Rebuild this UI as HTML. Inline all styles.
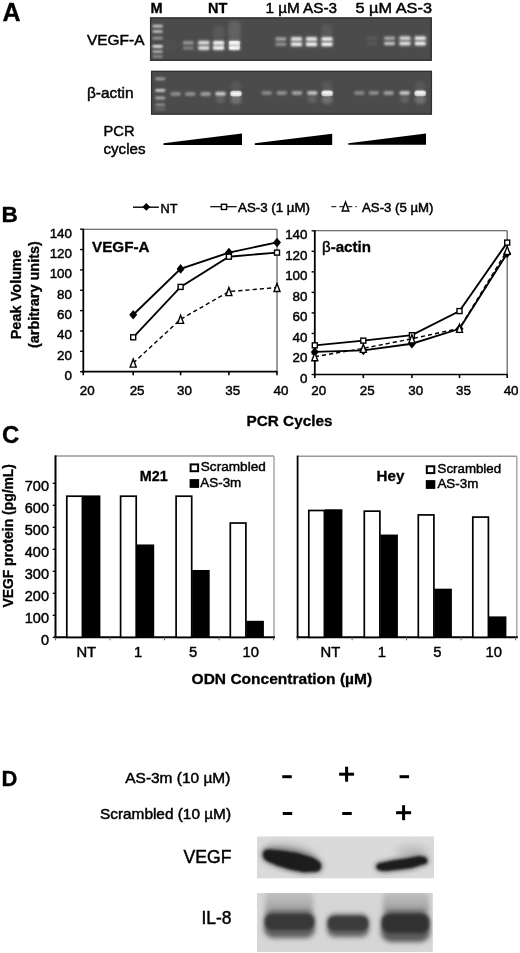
<!DOCTYPE html>
<html><head><meta charset="utf-8"><style>
html,body{margin:0;padding:0;background:#fff;}
svg{display:block;font-family:"Liberation Sans", sans-serif;will-change:transform;}
text{stroke:#000;stroke-width:0.45px;}
text[font-weight="bold"],tspan[font-weight="bold"]{stroke-width:0.3px;}
</style></head><body>
<svg width="520" height="953" viewBox="0 0 520 953">
<defs>
<clipPath id="il8clip"><rect x="257" y="893" width="175.8" height="59"/></clipPath>
<linearGradient id="smg" x1="0" y1="0" x2="0" y2="1"><stop offset="0" stop-color="#c8c8c8"/><stop offset="0.6" stop-color="#ababab"/><stop offset="1" stop-color="#8a8a8a"/></linearGradient>
<filter id="b1" x="-50%" y="-100%" width="200%" height="300%"><feGaussianBlur stdDeviation="0.7"/></filter>
<filter id="b09" x="-50%" y="-100%" width="200%" height="300%"><feGaussianBlur stdDeviation="0.9"/></filter>
<filter id="b15" x="-50%" y="-100%" width="200%" height="300%"><feGaussianBlur stdDeviation="1.2"/></filter>
<filter id="b2" x="-50%" y="-100%" width="200%" height="300%"><feGaussianBlur stdDeviation="1.6"/></filter>
<filter id="b3" x="-50%" y="-100%" width="200%" height="300%"><feGaussianBlur stdDeviation="2.5"/></filter>
<filter id="b4" x="-50%" y="-100%" width="200%" height="300%"><feGaussianBlur stdDeviation="4"/></filter>
</defs>
<text x="2.5" y="20.8" font-size="25" font-weight="bold">A</text>
<text x="150.5" y="13" font-size="14.5" font-weight="bold">M</text>
<text x="208" y="13" font-size="14.5" font-weight="bold">NT</text>
<text x="265.5" y="13" font-size="14.5" textLength="71.5" lengthAdjust="spacingAndGlyphs">1 µM AS-3</text>
<text x="355.5" y="13" font-size="14.5" textLength="76.5" lengthAdjust="spacingAndGlyphs">5 µM AS-3</text>
<text x="87" y="45" font-size="15" textLength="57.5" lengthAdjust="spacingAndGlyphs">VEGF-A</text>
<text x="87" y="98" font-size="15" textLength="46.5" lengthAdjust="spacingAndGlyphs">β-actin</text>
<rect x="150.00" y="17.40" width="281.80" height="43.40" fill="#4b4b4b"/>
<rect x="150.6" y="18.0" width="280.6" height="42.199999999999996" fill="none" stroke="#303030" stroke-width="1.3"/>
<rect x="151.00" y="70.80" width="281.00" height="43.80" fill="#4b4b4b"/>
<rect x="151.6" y="71.39999999999999" width="279.8" height="42.599999999999994" fill="none" stroke="#303030" stroke-width="1.3"/>
<rect x="152.40" y="24.80" width="10.40" height="2.80" rx="1.40" fill="#c8c8c8" opacity="1" filter="url(#b09)"/>
<rect x="152.40" y="30.10" width="10.40" height="2.80" rx="1.40" fill="#b8b8b8" opacity="1" filter="url(#b09)"/>
<rect x="152.40" y="36.80" width="10.40" height="2.80" rx="1.40" fill="#9a9a9a" opacity="1" filter="url(#b09)"/>
<rect x="152.40" y="45.00" width="10.40" height="2.80" rx="1.40" fill="#ececec" opacity="1" filter="url(#b09)"/>
<rect x="152.40" y="50.30" width="10.40" height="2.80" rx="1.40" fill="#b4b4b4" opacity="1" filter="url(#b09)"/>
<rect x="152.40" y="55.10" width="10.40" height="2.80" rx="1.40" fill="#888888" opacity="1" filter="url(#b09)"/>
<rect x="155.30" y="77.40" width="10.00" height="2.80" rx="1.40" fill="#a0a0a0" opacity="1" filter="url(#b09)"/>
<rect x="155.30" y="89.00" width="10.00" height="2.80" rx="1.40" fill="#d4d4d4" opacity="1" filter="url(#b09)"/>
<rect x="155.30" y="96.60" width="10.00" height="2.80" rx="1.40" fill="#aaaaaa" opacity="1" filter="url(#b09)"/>
<rect x="155.30" y="103.40" width="10.00" height="2.80" rx="1.40" fill="#909090" opacity="1" filter="url(#b09)"/>
<rect x="155.30" y="107.60" width="10.00" height="2.80" rx="1.40" fill="#686868" opacity="1" filter="url(#b09)"/>
<rect x="228.40" y="21.00" width="12.00" height="20.00" rx="4.00" fill="#626262" opacity="1" filter="url(#b2)"/>
<rect x="213.10" y="26.00" width="11.00" height="14.00" rx="4.00" fill="#585858" opacity="1" filter="url(#b2)"/>
<rect x="321.50" y="24.00" width="11.00" height="14.00" rx="4.00" fill="#585858" opacity="1" filter="url(#b2)"/>
<rect x="164.60" y="41.00" width="10.80" height="3.40" rx="1.20" fill="#505050" opacity="1" filter="url(#b09)"/>
<rect x="164.60" y="46.20" width="10.80" height="3.60" rx="1.20" fill="#505050" opacity="1" filter="url(#b09)"/>
<rect x="182.90" y="41.00" width="10.80" height="3.40" rx="1.20" fill="#969696" opacity="1" filter="url(#b09)"/>
<rect x="182.90" y="46.20" width="10.80" height="3.60" rx="1.20" fill="#808080" opacity="1" filter="url(#b09)"/>
<rect x="197.30" y="39.85" width="13.00" height="11.00" rx="3.00" fill="#6a6a6a" opacity="1" filter="url(#b2)"/>
<rect x="198.40" y="41.00" width="10.80" height="3.40" rx="1.20" fill="#e0e0e0" opacity="1" filter="url(#b09)"/>
<rect x="198.40" y="46.20" width="10.80" height="3.60" rx="1.20" fill="#e8e8e8" opacity="1" filter="url(#b09)"/>
<rect x="212.10" y="39.85" width="13.00" height="11.00" rx="3.00" fill="#6a6a6a" opacity="1" filter="url(#b2)"/>
<rect x="213.20" y="41.00" width="10.80" height="3.40" rx="1.20" fill="#eeeeee" opacity="1" filter="url(#b09)"/>
<rect x="213.20" y="46.20" width="10.80" height="3.60" rx="1.20" fill="#f4f4f4" opacity="1" filter="url(#b09)"/>
<rect x="227.90" y="39.85" width="13.00" height="11.00" rx="3.00" fill="#6a6a6a" opacity="1" filter="url(#b2)"/>
<rect x="229.00" y="41.00" width="10.80" height="3.40" rx="1.20" fill="#ffffff" opacity="1" filter="url(#b09)"/>
<rect x="229.00" y="46.20" width="10.80" height="3.60" rx="1.20" fill="#ffffff" opacity="1" filter="url(#b09)"/>
<rect x="275.40" y="37.30" width="10.80" height="3.40" rx="1.20" fill="#a4a4a4" opacity="1" filter="url(#b09)"/>
<rect x="275.40" y="42.50" width="10.80" height="3.60" rx="1.20" fill="#909090" opacity="1" filter="url(#b09)"/>
<rect x="290.00" y="36.15" width="13.00" height="11.00" rx="3.00" fill="#6a6a6a" opacity="1" filter="url(#b2)"/>
<rect x="291.10" y="37.30" width="10.80" height="3.40" rx="1.20" fill="#e8e8e8" opacity="1" filter="url(#b09)"/>
<rect x="291.10" y="42.50" width="10.80" height="3.60" rx="1.20" fill="#f0f0f0" opacity="1" filter="url(#b09)"/>
<rect x="305.00" y="36.15" width="13.00" height="11.00" rx="3.00" fill="#6a6a6a" opacity="1" filter="url(#b2)"/>
<rect x="306.10" y="37.30" width="10.80" height="3.40" rx="1.20" fill="#f0f0f0" opacity="1" filter="url(#b09)"/>
<rect x="306.10" y="42.50" width="10.80" height="3.60" rx="1.20" fill="#f8f8f8" opacity="1" filter="url(#b09)"/>
<rect x="320.50" y="36.15" width="13.00" height="11.00" rx="3.00" fill="#6a6a6a" opacity="1" filter="url(#b2)"/>
<rect x="321.60" y="37.30" width="10.80" height="3.40" rx="1.20" fill="#f4f4f4" opacity="1" filter="url(#b09)"/>
<rect x="321.60" y="42.50" width="10.80" height="3.60" rx="1.20" fill="#fafafa" opacity="1" filter="url(#b09)"/>
<rect x="366.60" y="36.60" width="10.80" height="3.40" rx="1.20" fill="#5c5c5c" opacity="1" filter="url(#b09)"/>
<rect x="366.60" y="41.70" width="10.80" height="3.60" rx="1.20" fill="#585858" opacity="1" filter="url(#b09)"/>
<rect x="384.10" y="36.60" width="10.80" height="3.40" rx="1.20" fill="#a8a8a8" opacity="1" filter="url(#b09)"/>
<rect x="384.10" y="41.70" width="10.80" height="3.60" rx="1.20" fill="#c8c8c8" opacity="1" filter="url(#b09)"/>
<rect x="398.50" y="35.40" width="13.00" height="11.00" rx="3.00" fill="#6a6a6a" opacity="1" filter="url(#b2)"/>
<rect x="399.60" y="36.60" width="10.80" height="3.40" rx="1.20" fill="#d4d4d4" opacity="1" filter="url(#b09)"/>
<rect x="399.60" y="41.70" width="10.80" height="3.60" rx="1.20" fill="#e4e4e4" opacity="1" filter="url(#b09)"/>
<rect x="413.80" y="35.40" width="13.00" height="11.00" rx="3.00" fill="#6a6a6a" opacity="1" filter="url(#b2)"/>
<rect x="414.90" y="36.60" width="10.80" height="3.40" rx="1.20" fill="#ececec" opacity="1" filter="url(#b09)"/>
<rect x="414.90" y="41.70" width="10.80" height="3.60" rx="1.20" fill="#f4f4f4" opacity="1" filter="url(#b09)"/>
<rect x="228.90" y="41.05" width="11.00" height="8.50" rx="2.00" fill="#ffffff" opacity="0.5" filter="url(#b1)"/>
<rect x="213.35" y="41.55" width="10.50" height="7.50" rx="2.00" fill="#ffffff" opacity="0.3" filter="url(#b1)"/>
<rect x="216.00" y="96.00" width="9.00" height="7.00" rx="3.50" fill="#626262" opacity="1" filter="url(#b2)"/>
<rect x="307.80" y="96.00" width="9.00" height="7.00" rx="3.50" fill="#626262" opacity="1" filter="url(#b2)"/>
<rect x="400.10" y="96.00" width="9.00" height="7.00" rx="3.50" fill="#626262" opacity="1" filter="url(#b2)"/>
<rect x="230.50" y="95.00" width="11.00" height="9.00" rx="4.50" fill="#707070" opacity="1" filter="url(#b2)"/>
<rect x="231.00" y="81.00" width="10.00" height="10.00" rx="5.00" fill="#585858" opacity="1" filter="url(#b2)"/>
<rect x="321.70" y="95.00" width="11.00" height="9.00" rx="4.50" fill="#707070" opacity="1" filter="url(#b2)"/>
<rect x="322.20" y="81.00" width="10.00" height="10.00" rx="5.00" fill="#585858" opacity="1" filter="url(#b2)"/>
<rect x="414.70" y="95.00" width="11.00" height="9.00" rx="4.50" fill="#707070" opacity="1" filter="url(#b2)"/>
<rect x="415.20" y="81.00" width="10.00" height="10.00" rx="5.00" fill="#585858" opacity="1" filter="url(#b2)"/>
<rect x="170.45" y="91.90" width="10.50" height="4.00" rx="1.80" fill="#8c8c8c" opacity="1" filter="url(#b09)"/>
<rect x="185.05" y="91.90" width="10.50" height="4.00" rx="1.80" fill="#909090" opacity="1" filter="url(#b09)"/>
<rect x="200.35" y="91.90" width="10.50" height="4.00" rx="1.80" fill="#9c9c9c" opacity="1" filter="url(#b09)"/>
<rect x="215.25" y="91.80" width="10.50" height="4.00" rx="1.80" fill="#c8c8c8" opacity="1" filter="url(#b09)"/>
<rect x="230.75" y="91.80" width="10.50" height="4.00" rx="1.80" fill="#f4f4f4" opacity="1" filter="url(#b09)"/>
<rect x="261.55" y="90.90" width="10.50" height="4.00" rx="1.80" fill="#888888" opacity="1" filter="url(#b09)"/>
<rect x="276.55" y="90.90" width="10.50" height="4.00" rx="1.80" fill="#909090" opacity="1" filter="url(#b09)"/>
<rect x="291.75" y="90.90" width="10.50" height="4.00" rx="1.80" fill="#a0a0a0" opacity="1" filter="url(#b09)"/>
<rect x="307.05" y="90.90" width="10.50" height="4.00" rx="1.80" fill="#c0c0c0" opacity="1" filter="url(#b09)"/>
<rect x="321.95" y="90.80" width="10.50" height="4.00" rx="1.80" fill="#f0f0f0" opacity="1" filter="url(#b09)"/>
<rect x="354.15" y="90.90" width="10.50" height="4.00" rx="1.80" fill="#868686" opacity="1" filter="url(#b09)"/>
<rect x="368.55" y="90.90" width="10.50" height="4.00" rx="1.80" fill="#8c8c8c" opacity="1" filter="url(#b09)"/>
<rect x="383.35" y="90.90" width="10.50" height="4.00" rx="1.80" fill="#9c9c9c" opacity="1" filter="url(#b09)"/>
<rect x="399.35" y="90.90" width="10.50" height="4.00" rx="1.80" fill="#c4c4c4" opacity="1" filter="url(#b09)"/>
<rect x="414.95" y="90.80" width="10.50" height="4.00" rx="1.80" fill="#f0f0f0" opacity="1" filter="url(#b09)"/>
<rect x="230.25" y="90.85" width="11.50" height="5.50" rx="2.50" fill="#ffffff" opacity="0.6" filter="url(#b1)"/>
<rect x="321.45" y="90.85" width="11.50" height="5.50" rx="2.50" fill="#ffffff" opacity="0.6" filter="url(#b1)"/>
<rect x="414.45" y="90.85" width="11.50" height="5.50" rx="2.50" fill="#ffffff" opacity="0.6" filter="url(#b1)"/>
<path d="M163.5 143.3 L242 133.5 L242 145 L163.5 145 Z" fill="#000"/>
<path d="M254.8 143.3 L332.2 133.7 L332.2 145 L254.8 145 Z" fill="#000"/>
<path d="M348.3 143.2 L426 133.5 L426 144.8 L348.3 144.8 Z" fill="#000"/>
<text x="103.5" y="135.6" font-size="14.5" textLength="31" lengthAdjust="spacingAndGlyphs">PCR</text>
<text x="103.5" y="154" font-size="14.5" textLength="42" lengthAdjust="spacingAndGlyphs">cycles</text>
<text x="1.5" y="222.3" font-size="22.7" font-weight="bold">B</text>
<line x1="133.00" y1="207.20" x2="158.90" y2="207.20" stroke="#000" stroke-width="1.4"/>
<path d="M146.30 203.00 L150.20 206.90 L146.30 210.80 L142.40 206.90 Z" fill="#000"/>
<text x="160.5" y="213.1" font-size="12.5" textLength="17" lengthAdjust="spacingAndGlyphs">NT</text>
<line x1="210.20" y1="206.70" x2="236.70" y2="206.70" stroke="#000" stroke-width="1.2"/>
<rect x="221.40" y="204.30" width="5.20" height="5.20" fill="#fff" stroke="#000" stroke-width="1.4"/>
<text x="238" y="212.4" font-size="12" textLength="72" lengthAdjust="spacingAndGlyphs">AS-3 (1 µM)</text>
<line x1="331.30" y1="206.70" x2="356.70" y2="206.70" stroke="#000" stroke-width="1.0" stroke-dasharray="5 3"/>
<path d="M345.50 202.04 L348.80 210.96 L342.20 210.96 Z" fill="#fff" stroke="#000" stroke-width="1.4"/>
<text x="362" y="212.4" font-size="12" textLength="71.5" lengthAdjust="spacingAndGlyphs">AS-3 (5 µM)</text>
<text transform="translate(21,294.6) rotate(-90)" text-anchor="middle" font-size="14.5" font-weight="bold" textLength="89.5" lengthAdjust="spacingAndGlyphs">Peak Volume</text>
<text transform="translate(38.8,294.6) rotate(-90)" text-anchor="middle" font-size="14.5" font-weight="bold" textLength="107" lengthAdjust="spacingAndGlyphs">(arbitrary units)</text>
<line x1="83.30" y1="229.20" x2="277.00" y2="229.20" stroke="#444" stroke-width="1.1"/>
<line x1="277.00" y1="229.20" x2="277.00" y2="371.70" stroke="#666" stroke-width="1.3"/>
<line x1="83.30" y1="228.70" x2="83.30" y2="372.70" stroke="#000" stroke-width="1.8"/>
<line x1="82.30" y1="371.70" x2="277.50" y2="371.70" stroke="#000" stroke-width="1.7"/>
<line x1="80.10" y1="371.70" x2="83.30" y2="371.70" stroke="#000" stroke-width="1.4"/>
<text x="72" y="380.0" font-size="13.4" text-anchor="end">0</text>
<line x1="80.10" y1="351.34" x2="83.30" y2="351.34" stroke="#000" stroke-width="1.4"/>
<text x="72" y="359.64285714285717" font-size="13.4" text-anchor="end">20</text>
<line x1="80.10" y1="330.99" x2="83.30" y2="330.99" stroke="#000" stroke-width="1.4"/>
<text x="72" y="339.2857142857143" font-size="13.4" text-anchor="end">40</text>
<line x1="80.10" y1="310.63" x2="83.30" y2="310.63" stroke="#000" stroke-width="1.4"/>
<text x="72" y="318.92857142857144" font-size="13.4" text-anchor="end">60</text>
<line x1="80.10" y1="290.27" x2="83.30" y2="290.27" stroke="#000" stroke-width="1.4"/>
<text x="72" y="298.57142857142856" font-size="13.4" text-anchor="end">80</text>
<line x1="80.10" y1="269.91" x2="83.30" y2="269.91" stroke="#000" stroke-width="1.4"/>
<text x="72" y="278.2142857142857" font-size="13.4" text-anchor="end">100</text>
<line x1="80.10" y1="249.56" x2="83.30" y2="249.56" stroke="#000" stroke-width="1.4"/>
<text x="72" y="257.85714285714283" font-size="13.4" text-anchor="end">120</text>
<line x1="80.10" y1="229.20" x2="83.30" y2="229.20" stroke="#000" stroke-width="1.4"/>
<text x="72" y="237.5" font-size="13.4" text-anchor="end">140</text>
<line x1="83.30" y1="371.70" x2="83.30" y2="375.30" stroke="#000" stroke-width="1.6"/>
<text x="87.2" y="394.7" font-size="13.4" text-anchor="middle">20</text>
<line x1="133.20" y1="371.70" x2="133.20" y2="375.30" stroke="#000" stroke-width="1.6"/>
<text x="137.1" y="394.7" font-size="13.4" text-anchor="middle">25</text>
<line x1="180.60" y1="371.70" x2="180.60" y2="375.30" stroke="#000" stroke-width="1.6"/>
<text x="184.5" y="394.7" font-size="13.4" text-anchor="middle">30</text>
<line x1="228.90" y1="371.70" x2="228.90" y2="375.30" stroke="#000" stroke-width="1.6"/>
<text x="232.8" y="394.7" font-size="13.4" text-anchor="middle">35</text>
<line x1="277.00" y1="371.70" x2="277.00" y2="375.30" stroke="#000" stroke-width="1.6"/>
<text x="280.9" y="394.7" font-size="13.4" text-anchor="middle">40</text>
<polyline points="133.20,314.70 180.60,268.90 228.90,252.61 277.00,242.43" fill="none" stroke="#000" stroke-width="1.9"/>
<path d="M133.20 309.90 L137.20 314.70 L133.20 319.50 L129.20 314.70 Z" fill="#000"/>
<path d="M180.60 264.10 L184.60 268.90 L180.60 273.70 L176.60 268.90 Z" fill="#000"/>
<path d="M228.90 247.81 L232.90 252.61 L228.90 257.41 L224.90 252.61 Z" fill="#000"/>
<path d="M277.00 237.63 L281.00 242.43 L277.00 247.23 L273.00 242.43 Z" fill="#000"/>
<polyline points="133.20,337.30 180.60,286.91 228.90,256.68 277.00,252.61" fill="none" stroke="#000" stroke-width="1.9"/>
<rect x="130.70" y="334.80" width="5.00" height="5.00" fill="#fff" stroke="#000" stroke-width="1.4"/>
<rect x="178.10" y="284.41" width="5.00" height="5.00" fill="#fff" stroke="#000" stroke-width="1.4"/>
<rect x="226.40" y="254.18" width="5.00" height="5.00" fill="#fff" stroke="#000" stroke-width="1.4"/>
<rect x="274.50" y="250.11" width="5.00" height="5.00" fill="#fff" stroke="#000" stroke-width="1.4"/>
<polyline points="133.20,363.05 180.60,319.28 228.90,291.59 277.00,287.52" fill="none" stroke="#000" stroke-width="1.4" stroke-dasharray="4.2 3"/>
<path d="M133.20 359.00 L136.20 367.10 L130.20 367.10 Z" fill="#fff" stroke="#000" stroke-width="1.4"/>
<path d="M180.60 315.23 L183.60 323.33 L177.60 323.33 Z" fill="#fff" stroke="#000" stroke-width="1.4"/>
<path d="M228.90 287.54 L231.90 295.64 L225.90 295.64 Z" fill="#fff" stroke="#000" stroke-width="1.4"/>
<path d="M277.00 283.47 L280.00 291.57 L274.00 291.57 Z" fill="#fff" stroke="#000" stroke-width="1.4"/>
<text x="92" y="252.2" font-size="14.5" font-weight="bold" textLength="57.5" lengthAdjust="spacingAndGlyphs">VEGF-A</text>
<line x1="314.80" y1="230.80" x2="507.20" y2="230.80" stroke="#444" stroke-width="1.1"/>
<line x1="507.20" y1="230.80" x2="507.20" y2="374.50" stroke="#666" stroke-width="1.3"/>
<line x1="314.80" y1="230.30" x2="314.80" y2="375.50" stroke="#000" stroke-width="1.8"/>
<line x1="313.80" y1="374.50" x2="507.70" y2="374.50" stroke="#000" stroke-width="1.7"/>
<line x1="311.60" y1="374.50" x2="314.80" y2="374.50" stroke="#000" stroke-width="1.4"/>
<text x="307.5" y="382.8" font-size="13.4" text-anchor="end">0</text>
<line x1="311.60" y1="353.97" x2="314.80" y2="353.97" stroke="#000" stroke-width="1.4"/>
<text x="307.5" y="362.2714285714286" font-size="13.4" text-anchor="end">20</text>
<line x1="311.60" y1="333.44" x2="314.80" y2="333.44" stroke="#000" stroke-width="1.4"/>
<text x="307.5" y="341.74285714285713" font-size="13.4" text-anchor="end">40</text>
<line x1="311.60" y1="312.91" x2="314.80" y2="312.91" stroke="#000" stroke-width="1.4"/>
<text x="307.5" y="321.2142857142857" font-size="13.4" text-anchor="end">60</text>
<line x1="311.60" y1="292.39" x2="314.80" y2="292.39" stroke="#000" stroke-width="1.4"/>
<text x="307.5" y="300.6857142857143" font-size="13.4" text-anchor="end">80</text>
<line x1="311.60" y1="271.86" x2="314.80" y2="271.86" stroke="#000" stroke-width="1.4"/>
<text x="307.5" y="280.1571428571429" font-size="13.4" text-anchor="end">100</text>
<line x1="311.60" y1="251.33" x2="314.80" y2="251.33" stroke="#000" stroke-width="1.4"/>
<text x="307.5" y="259.62857142857143" font-size="13.4" text-anchor="end">120</text>
<line x1="311.60" y1="230.80" x2="314.80" y2="230.80" stroke="#000" stroke-width="1.4"/>
<text x="307.5" y="239.10000000000002" font-size="13.4" text-anchor="end">140</text>
<line x1="314.80" y1="374.50" x2="314.80" y2="378.10" stroke="#000" stroke-width="1.6"/>
<text x="318.7" y="394.7" font-size="13.4" text-anchor="middle">20</text>
<line x1="363.30" y1="374.50" x2="363.30" y2="378.10" stroke="#000" stroke-width="1.6"/>
<text x="367.2" y="394.7" font-size="13.4" text-anchor="middle">25</text>
<line x1="411.90" y1="374.50" x2="411.90" y2="378.10" stroke="#000" stroke-width="1.6"/>
<text x="415.79999999999995" y="394.7" font-size="13.4" text-anchor="middle">30</text>
<line x1="459.50" y1="374.50" x2="459.50" y2="378.10" stroke="#000" stroke-width="1.6"/>
<text x="463.4" y="394.7" font-size="13.4" text-anchor="middle">35</text>
<line x1="507.20" y1="374.50" x2="507.20" y2="378.10" stroke="#000" stroke-width="1.6"/>
<text x="511.09999999999997" y="394.7" font-size="13.4" text-anchor="middle">40</text>
<polyline points="314.80,351.92 363.30,350.38 411.90,343.71 459.50,328.82 507.20,253.38" fill="none" stroke="#000" stroke-width="1.9"/>
<path d="M314.80 347.12 L318.80 351.92 L314.80 356.72 L310.80 351.92 Z" fill="#000"/>
<path d="M363.30 345.58 L367.30 350.38 L363.30 355.18 L359.30 350.38 Z" fill="#000"/>
<path d="M411.90 338.91 L415.90 343.71 L411.90 348.51 L407.90 343.71 Z" fill="#000"/>
<path d="M459.50 324.02 L463.50 328.82 L459.50 333.62 L455.50 328.82 Z" fill="#000"/>
<path d="M507.20 248.58 L511.20 253.38 L507.20 258.18 L503.20 253.38 Z" fill="#000"/>
<polyline points="314.80,345.35 363.30,340.63 411.90,335.19 459.50,311.07 507.20,242.60" fill="none" stroke="#000" stroke-width="1.9"/>
<rect x="312.30" y="342.85" width="5.00" height="5.00" fill="#fff" stroke="#000" stroke-width="1.4"/>
<rect x="360.80" y="338.13" width="5.00" height="5.00" fill="#fff" stroke="#000" stroke-width="1.4"/>
<rect x="409.40" y="332.69" width="5.00" height="5.00" fill="#fff" stroke="#000" stroke-width="1.4"/>
<rect x="457.00" y="308.57" width="5.00" height="5.00" fill="#fff" stroke="#000" stroke-width="1.4"/>
<rect x="504.70" y="240.10" width="5.00" height="5.00" fill="#fff" stroke="#000" stroke-width="1.4"/>
<polyline points="314.80,356.74 363.30,348.33 411.90,338.78 459.50,328.31 507.20,250.30" fill="none" stroke="#000" stroke-width="1.4" stroke-dasharray="4.2 3"/>
<path d="M314.80 352.69 L317.80 360.79 L311.80 360.79 Z" fill="#fff" stroke="#000" stroke-width="1.4"/>
<path d="M363.30 344.28 L366.30 352.38 L360.30 352.38 Z" fill="#fff" stroke="#000" stroke-width="1.4"/>
<path d="M411.90 334.73 L414.90 342.83 L408.90 342.83 Z" fill="#fff" stroke="#000" stroke-width="1.4"/>
<path d="M459.50 324.26 L462.50 332.36 L456.50 332.36 Z" fill="#fff" stroke="#000" stroke-width="1.4"/>
<path d="M507.20 246.25 L510.20 254.35 L504.20 254.35 Z" fill="#fff" stroke="#000" stroke-width="1.4"/>
<text x="322" y="252.2" font-size="14.5" textLength="49" lengthAdjust="spacingAndGlyphs"><tspan>β</tspan><tspan font-weight="bold">-actin</tspan></text>
<text x="246.5" y="426" font-size="14.8" font-weight="bold" textLength="86" lengthAdjust="spacingAndGlyphs">PCR Cycles</text>
<text x="2" y="442.5" font-size="24" font-weight="bold">C</text>
<text transform="translate(13,535.8) rotate(-90)" text-anchor="middle" font-size="14" font-weight="bold" textLength="143.5" lengthAdjust="spacingAndGlyphs">VEGF protein (pg/mL)</text>
<line x1="55.50" y1="456.00" x2="274.00" y2="456.00" stroke="#999" stroke-width="1.4"/>
<line x1="274.00" y1="456.00" x2="274.00" y2="637.30" stroke="#999" stroke-width="1.3"/>
<line x1="55.50" y1="455.30" x2="55.50" y2="638.30" stroke="#000" stroke-width="2"/>
<line x1="54.50" y1="637.30" x2="275.00" y2="637.30" stroke="#000" stroke-width="2"/>
<line x1="52.70" y1="637.30" x2="55.50" y2="637.30" stroke="#000" stroke-width="1.3"/>
<text x="49" y="644.5" font-size="14.5" text-anchor="end">0</text>
<line x1="52.70" y1="615.30" x2="55.50" y2="615.30" stroke="#000" stroke-width="1.3"/>
<text x="49" y="622.5" font-size="14.5" text-anchor="end">100</text>
<line x1="52.70" y1="593.30" x2="55.50" y2="593.30" stroke="#000" stroke-width="1.3"/>
<text x="49" y="600.5" font-size="14.5" text-anchor="end">200</text>
<line x1="52.70" y1="571.30" x2="55.50" y2="571.30" stroke="#000" stroke-width="1.3"/>
<text x="49" y="578.5" font-size="14.5" text-anchor="end">300</text>
<line x1="52.70" y1="549.30" x2="55.50" y2="549.30" stroke="#000" stroke-width="1.3"/>
<text x="49" y="556.5" font-size="14.5" text-anchor="end">400</text>
<line x1="52.70" y1="527.30" x2="55.50" y2="527.30" stroke="#000" stroke-width="1.3"/>
<text x="49" y="534.5" font-size="14.5" text-anchor="end">500</text>
<line x1="52.70" y1="505.30" x2="55.50" y2="505.30" stroke="#000" stroke-width="1.3"/>
<text x="49" y="512.5" font-size="14.5" text-anchor="end">600</text>
<line x1="52.70" y1="483.30" x2="55.50" y2="483.30" stroke="#000" stroke-width="1.3"/>
<text x="49" y="490.49999999999994" font-size="14.5" text-anchor="end">700</text>
<line x1="55.50" y1="637.30" x2="55.50" y2="640.30" stroke="#666" stroke-width="1"/>
<line x1="110.00" y1="637.30" x2="110.00" y2="640.30" stroke="#666" stroke-width="1"/>
<line x1="164.50" y1="637.30" x2="164.50" y2="640.30" stroke="#666" stroke-width="1"/>
<line x1="219.00" y1="637.30" x2="219.00" y2="640.30" stroke="#666" stroke-width="1"/>
<line x1="273.50" y1="637.30" x2="273.50" y2="640.30" stroke="#666" stroke-width="1"/>
<rect x="66.80" y="496.20" width="15.60" height="141.10" fill="#fff" stroke="#000" stroke-width="1.7"/>
<rect x="82.80" y="495.40" width="17.60" height="141.90" fill="#000"/>
<rect x="120.60" y="496.20" width="15.60" height="141.10" fill="#fff" stroke="#000" stroke-width="1.7"/>
<rect x="136.60" y="544.46" width="17.60" height="92.84" fill="#000"/>
<rect x="176.10" y="496.20" width="15.60" height="141.10" fill="#fff" stroke="#000" stroke-width="1.7"/>
<rect x="192.10" y="569.98" width="17.60" height="67.32" fill="#000"/>
<rect x="230.30" y="523.04" width="15.60" height="114.26" fill="#fff" stroke="#000" stroke-width="1.7"/>
<rect x="246.30" y="620.80" width="17.60" height="16.50" fill="#000"/>
<text x="86.3" y="657.2" font-size="14.8" text-anchor="middle">NT</text>
<text x="138.1" y="657.2" font-size="14.8" text-anchor="middle">1</text>
<text x="193" y="657.2" font-size="14.8" text-anchor="middle">5</text>
<text x="250.8" y="657.2" font-size="14.8" text-anchor="middle">10</text>
<line x1="297.60" y1="456.30" x2="516.80" y2="456.30" stroke="#999" stroke-width="1.4"/>
<line x1="516.80" y1="456.30" x2="516.80" y2="637.30" stroke="#999" stroke-width="1.3"/>
<line x1="297.60" y1="455.60" x2="297.60" y2="638.30" stroke="#000" stroke-width="1.8"/>
<line x1="296.60" y1="637.30" x2="517.80" y2="637.30" stroke="#000" stroke-width="2"/>
<line x1="297.60" y1="637.30" x2="297.60" y2="640.30" stroke="#666" stroke-width="1"/>
<line x1="352.10" y1="637.30" x2="352.10" y2="640.30" stroke="#666" stroke-width="1"/>
<line x1="406.60" y1="637.30" x2="406.60" y2="640.30" stroke="#666" stroke-width="1"/>
<line x1="461.10" y1="637.30" x2="461.10" y2="640.30" stroke="#666" stroke-width="1"/>
<line x1="515.60" y1="637.30" x2="515.60" y2="640.30" stroke="#666" stroke-width="1"/>
<rect x="308.80" y="510.50" width="15.60" height="126.80" fill="#fff" stroke="#000" stroke-width="1.7"/>
<rect x="324.80" y="509.26" width="17.60" height="128.04" fill="#000"/>
<rect x="364.30" y="511.16" width="15.60" height="126.14" fill="#fff" stroke="#000" stroke-width="1.7"/>
<rect x="380.30" y="534.56" width="17.60" height="102.74" fill="#000"/>
<rect x="418.30" y="514.90" width="15.60" height="122.40" fill="#fff" stroke="#000" stroke-width="1.7"/>
<rect x="434.30" y="588.68" width="17.60" height="48.62" fill="#000"/>
<rect x="472.80" y="517.10" width="15.60" height="120.20" fill="#fff" stroke="#000" stroke-width="1.7"/>
<rect x="488.80" y="616.40" width="17.60" height="20.90" fill="#000"/>
<text x="330.4" y="657.2" font-size="14.8" text-anchor="middle">NT</text>
<text x="381.9" y="657.2" font-size="14.8" text-anchor="middle">1</text>
<text x="437.3" y="657.2" font-size="14.8" text-anchor="middle">5</text>
<text x="493.7" y="657.2" font-size="14.8" text-anchor="middle">10</text>
<text x="139.8" y="480.6" font-size="14.6" font-weight="bold" textLength="28" lengthAdjust="spacingAndGlyphs">M21</text>
<text x="376.6" y="480.6" font-size="14.6" font-weight="bold" textLength="27.8" lengthAdjust="spacingAndGlyphs">Hey</text>
<rect x="190.60" y="464.40" width="7.50" height="6.80" fill="#fff" stroke="#000" stroke-width="2"/>
<rect x="189.60" y="479.10" width="9.50" height="8.80" fill="#000"/>
<text x="200.8" y="471.4" font-size="13.5" textLength="65" lengthAdjust="spacingAndGlyphs">Scrambled</text>
<text x="200.3" y="487.3" font-size="13.5" textLength="41" lengthAdjust="spacingAndGlyphs">AS-3m</text>
<rect x="426.80" y="466.30" width="7.50" height="6.80" fill="#fff" stroke="#000" stroke-width="2"/>
<rect x="425.80" y="480.10" width="9.50" height="8.80" fill="#000"/>
<text x="437.6" y="472.9" font-size="13.5" textLength="63.5" lengthAdjust="spacingAndGlyphs">Scrambled</text>
<text x="437.4" y="488.2" font-size="13.5" textLength="41" lengthAdjust="spacingAndGlyphs">AS-3m</text>
<text x="191.6" y="683.8" font-size="14.6" font-weight="bold" textLength="180.5" lengthAdjust="spacingAndGlyphs">ODN Concentration (µM)</text>
<text x="1.5" y="786" font-size="22" font-weight="bold">D</text>
<text x="125.3" y="783" font-size="14" textLength="105" lengthAdjust="spacingAndGlyphs">AS-3m (10 µM)</text>
<text x="100" y="819.3" font-size="14.4" textLength="131" lengthAdjust="spacingAndGlyphs">Scrambled (10 µM)</text>
<rect x="282.25" y="775.20" width="9.50" height="3.00" fill="#000"/>
<rect x="339.10" y="772.70" width="15.00" height="3.00" fill="#000"/>
<rect x="345.10" y="766.70" width="3.00" height="15.00" fill="#000"/>
<rect x="399.55" y="775.20" width="9.50" height="3.00" fill="#000"/>
<rect x="282.75" y="812.00" width="9.50" height="3.00" fill="#000"/>
<rect x="342.25" y="812.00" width="9.50" height="3.00" fill="#000"/>
<rect x="396.10" y="811.20" width="15.00" height="3.00" fill="#000"/>
<rect x="402.10" y="805.20" width="3.00" height="15.00" fill="#000"/>
<rect x="257.00" y="836.50" width="177.00" height="41.80" fill="#dadada"/>
<rect x="257.00" y="893.00" width="175.80" height="59.00" fill="#d6d6d6"/>
<ellipse cx="290" cy="855" rx="26" ry="9" fill="#9a9a9a" transform="rotate(10 290 855)" filter="url(#b4)"/>
<path d="M263.2,855 C263,850.5 266,849.5 271,849.8 L284,851 L297,853 L310.3,857 C316,859 321,862 321,866 C321,870 318,871.5 315.5,871.4 L303.7,872 L290.7,869.5 L277.6,865.5 L268.5,861.6 C265,860 263.3,858 263.2,855 Z" fill="#6a6a6a" stroke="#6a6a6a" stroke-width="3" filter="url(#b3)"/>
<path d="M263.2,855 C263,850.5 266,849.5 271,849.8 L284,851 L297,853 L310.3,857 C316,859 321,862 321,866 C321,870 318,871.5 315.5,871.4 L303.7,872 L290.7,869.5 L277.6,865.5 L268.5,861.6 C265,860 263.3,858 263.2,855 Z" fill="#1a1a1a" filter="url(#b15)"/>
<ellipse cx="412" cy="852" rx="16" ry="6" fill="#b8b8b8" filter="url(#b4)"/>
<path d="M376.6,867 C376.6,864 379,863.2 381.9,862.9 L393.8,860.5 L405.8,858.7 L417.7,856.6 C422,856 427.2,857.5 427.2,860.5 C427.2,863 425.5,864 423.6,864.1 L411.7,867.7 L399.8,869.2 L387.9,870.6 C382,871.2 376.6,870 376.6,867 Z" fill="#6a6a6a" stroke="#6a6a6a" stroke-width="3" filter="url(#b3)"/>
<path d="M376.6,867 C376.6,864 379,863.2 381.9,862.9 L393.8,860.5 L405.8,858.7 L417.7,856.6 C422,856 427.2,857.5 427.2,860.5 C427.2,863 425.5,864 423.6,864.1 L411.7,867.7 L399.8,869.2 L387.9,870.6 C382,871.2 376.6,870 376.6,867 Z" fill="#1a1a1a" filter="url(#b15)"/>
<g clip-path="url(#il8clip)">
<rect x="265" y="889" width="48" height="28" rx="6" fill="url(#smg)" filter="url(#b3)"/>
<rect x="383" y="889" width="46" height="26" rx="6" fill="url(#smg)" filter="url(#b3)"/>
<rect x="264" y="911" width="51" height="27" rx="9" fill="#5e5e5e" filter="url(#b3)"/>
<rect x="265" y="914" width="49" height="16" rx="7" fill="#383838" filter="url(#b2)"/>
<rect x="327" y="914" width="42" height="23" rx="8" fill="#606060" filter="url(#b3)"/>
<rect x="328" y="916.5" width="40" height="14" rx="6" fill="#3a3a3a" filter="url(#b2)"/>
<rect x="381" y="911" width="49" height="31" rx="10" fill="#585858" filter="url(#b3)"/>
<rect x="382" y="914" width="47" height="19" rx="8" fill="#333" filter="url(#b2)"/>
</g>
<text x="183.5" y="862.8" font-size="17.5" textLength="48" lengthAdjust="spacingAndGlyphs">VEGF</text>
<text x="201.5" y="924.3" font-size="17.5" textLength="30" lengthAdjust="spacingAndGlyphs">IL-8</text>
</svg>
</body></html>
